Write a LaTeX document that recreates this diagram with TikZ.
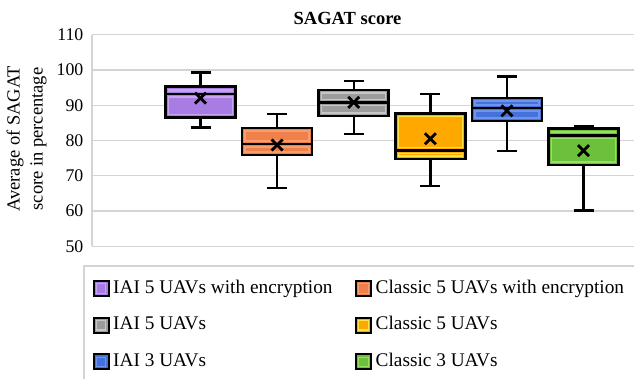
\documentclass[tikz,border=0pt]{standalone}
\usepackage{fontspec}
\setmainfont{Liberation Serif}
\usepackage{tikz}

\definecolor{iaiencfill}{HTML}{A77DE3}
\definecolor{iaienclight}{HTML}{C9A2F2}
\definecolor{clsencfill}{HTML}{F0804A}
\definecolor{clsenclight}{HTML}{F79E6E}
\definecolor{iaifivefill}{HTML}{9C9C9C}
\definecolor{iaifivelight}{HTML}{C6C6C6}
\definecolor{clsfivefill}{HTML}{FFA800}
\definecolor{clsfivelight}{HTML}{FFE24A}
\definecolor{iaithreefill}{HTML}{4472DA}
\definecolor{iaithreelight}{HTML}{6E95EE}
\definecolor{clsthreefill}{HTML}{6CC03C}
\definecolor{clsthreelight}{HTML}{98DE62}
\definecolor{gridgray}{HTML}{D4D4D4}

\newcommand{\tickfont}{\fontsize{17.8}{20}\selectfont}
\newcommand{\legfont}{\fontsize{19.3}{22}\selectfont}

% x, lower whisker, q1, median, q3, upper whisker, mean, fill, light
\newcommand{\uavbox}[9]{%
\draw [whisker] (#1,#2) -- (#1,#3);
\draw [whisker] (#1,#5) -- (#1,#6);
\draw [whisker] (#1-10,#2) -- (#1+10,#2);
\draw [whisker] (#1-10,#6) -- (#1+10,#6);
\fill [#8] (#1-35,#3) rectangle (#1+35,#5);
\draw [#9,line width=1.4pt] ([shift={(3pt,3pt)}]#1-35,#3) rectangle ([shift={(-3pt,-3pt)}]#1+35,#4);
\draw [#9,line width=1.4pt] ([shift={(3pt,3pt)}]#1-35,#4) rectangle ([shift={(-3pt,-3pt)}]#1+35,#5);
\draw [boxline] (#1-35,#3) rectangle (#1+35,#5);
\draw [boxline] (#1-35,#4) -- (#1+35,#4);
\draw [meanx] ([shift={(-5.5pt,-5.5pt)}]#1,#7) -- ([shift={(5.5pt,5.5pt)}]#1,#7);
\draw [meanx] ([shift={(-5.5pt,5.5pt)}]#1,#7) -- ([shift={(5.5pt,-5.5pt)}]#1,#7);
}

% x, y, fill, light, name, text
\newcommand{\legkey}[6]{%
\fill [#3] (#1-7.5,#2-7.5) rectangle (#1+7.5,#2+7.5);
\draw [#4,line width=1.2pt] (#1-4.8,#2-4.8) rectangle (#1+4.8,#2+4.8);
\draw [black,line width=2pt] (#1-7.5,#2-7.5) rectangle (#1+7.5,#2+7.5);
\draw (#1+12,#2-4.6) node [anchor=base west,font=\legfont] (#5) {#6};
}

\begin{document}
\begin{tikzpicture}[x=1pt,y=1pt]
\tikzstyle{every node}+=[inner sep=0pt]
\tikzstyle{whisker}=[black,line width=2.4pt]
\tikzstyle{boxline}=[black,line width=2.6pt]
\tikzstyle{meanx}=[black,line width=2.8pt]
\useasboundingbox (0,0) rectangle (634,379);
\clip (0,0) rectangle (634,379);
\draw (347.5,360.7) node [font=\bfseries\fontsize{18.5}{20}\selectfont] (title) {SAGAT score};
\draw (26.5,240) node [rotate=90,align=center,font=\fontsize{18.5}{23}\selectfont] (ylabel) {Average of SAGAT\\score in percentage};
\begin{scope}[yshift=-43.65pt,y=3.527pt]
\foreach \v in {50,60,...,110} {
\draw [gridgray,line width=1.3pt] (92,\v) -- (640,\v);
\draw (83.5,\v) node [anchor=east,font=\tickfont] (tick\v) {\v};
}
\draw [gridgray,line width=1.3pt] (92,50) -- (92,110);
\uavbox{200.5}{83.7}{86.6}{93.2}{95.3}{99.3}{92.0}{iaiencfill}{iaienclight}
\uavbox{277.1}{66.5}{75.9}{79.0}{83.5}{87.5}{78.7}{clsencfill}{clsenclight}
\uavbox{353.7}{81.8}{86.9}{90.7}{94.3}{96.9}{90.8}{iaifivefill}{iaifivelight}
\uavbox{430.3}{67.1}{74.8}{77.1}{87.6}{93.2}{80.5}{clsfivefill}{clsfivelight}
\uavbox{506.9}{77.1}{85.5}{89.2}{92.1}{98.1}{88.4}{iaithreefill}{iaithreelight}
\uavbox{583.5}{60.2}{73.1}{81.4}{83.4}{84.1}{77.1}{clsthreefill}{clsthreelight}
\end{scope}
\draw [gridgray,line width=1.3pt] (84,-10) rectangle (650,113);
\legkey{101}{90.3}{iaiencfill}{iaienclight}{legiaienc}{IAI 5 UAVs with encryption}
\legkey{363.5}{90.3}{clsencfill}{clsenclight}{legclsenc}{Classic 5 UAVs with encryption}
\legkey{101}{53.7}{iaifivefill}{iaifivelight}{legiaifive}{IAI 5 UAVs}
\legkey{363.5}{53.7}{clsfivefill}{clsfivelight}{legclsfive}{Classic 5 UAVs}
\legkey{101}{17}{iaithreefill}{iaithreelight}{legiaithree}{IAI 3 UAVs}
\legkey{363.5}{17}{clsthreefill}{clsthreelight}{legclsthree}{Classic 3 UAVs}
\end{tikzpicture}
\end{document}
